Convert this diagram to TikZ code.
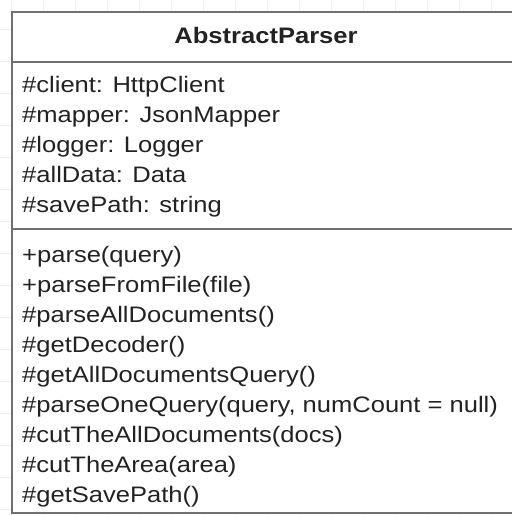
\documentclass[tikz,border=0pt]{standalone}
\usepackage{fontspec}
\setmainfont{Liberation Sans}[FakeStretch=1.14]
\usetikzlibrary{positioning}
\definecolor{umlline}{HTML}{707070}
\definecolor{umltext}{HTML}{222222}
\definecolor{umlgrid}{HTML}{EEEEEE}
\tikzset{
  classbox/.style ={draw=umlline, line width=2pt, fill=white},
  classsep/.style ={draw=umlline, line width=2pt},
  classname/.style={font=\fontsize{22.4}{30}\selectfont\bfseries, text=umltext, inner sep=0pt},
  member/.style   ={font=\fontsize{22.4}{30}\selectfont, text=umltext, inner sep=0pt, anchor=base west},
  bggrid/.style   ={draw=umlgrid, line width=0.8pt}
}
\begin{document}
\begin{tikzpicture}[x=1pt,y=-1pt]
  \useasboundingbox (0,0) rectangle (512,515);
  % faint canvas grid
  \foreach \gx in {11,43,...,523} \draw[bggrid] (\gx,0) -- (\gx,515);
  \foreach \gy in {29,61,...,515} \draw[bggrid] (0,\gy) -- (512,\gy);
  % class box, runs off the right edge
  \draw[classbox] (12,12) rectangle (520,513);
  \coordinate (sepA) at (12,62);
  \coordinate (sepB) at (12,229);
  \draw[classsep] (sepA) -- ++(508,0);
  \draw[classsep] (sepB) -- ++(508,0);
  \node[classname, anchor=base] (name) at (266,43) {AbstractParser};
  % attributes
  \foreach \txt [count=\i] in {{\#client: HttpClient},{\#mapper: JsonMapper},
      {\#logger: Logger},{\#allData: Data},{\#savePath: string}}
    \node[member] (attr\i) at (22,62+30*\i) {\txt};
  % operations
  \foreach \txt [count=\i] in {{+parse(query)},{+parseFromFile(file)},
      {\#parseAllDocuments()},{\#getDecoder()},{\#getAllDocumentsQuery()},
      {\#parseOneQuery(query, numCount = null)},{\#cutTheAllDocuments(docs)},
      {\#cutTheArea(area)},{\#getSavePath()}}
    \node[member] (op\i) at (22,232+30*\i) {\txt};
\end{tikzpicture}
\end{document}
